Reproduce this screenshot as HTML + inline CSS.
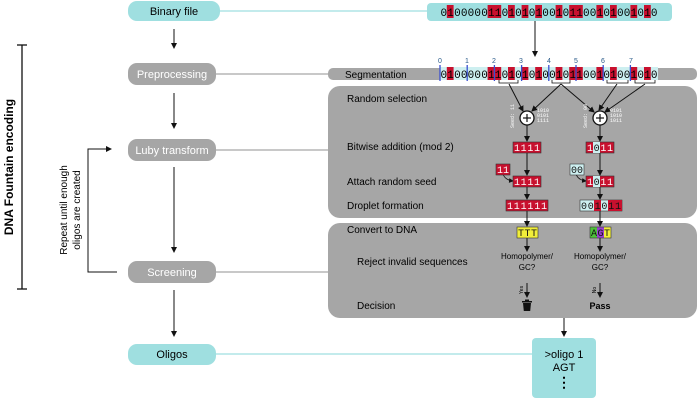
<!DOCTYPE html>
<html><head><meta charset="utf-8"><style>
body{margin:0;background:#fff;}
svg{display:block;font-family:"Liberation Sans",sans-serif;}
</style></head><body>
<svg width="700" height="403" viewBox="0 0 700 403" xmlns="http://www.w3.org/2000/svg">
<defs><marker id="a" markerWidth="6" markerHeight="6" refX="5" refY="3" orient="auto"><path d="M0,0 L6,3 L0,6z" fill="#111"/></marker></defs>
<text transform="translate(13,167) rotate(-90)" text-anchor="middle" font-size="12" font-weight="bold">DNA Fountain encoding</text>
<line x1="22" y1="45" x2="22" y2="289" stroke="#111" stroke-width="1.3"/>
<line x1="17" y1="45" x2="27" y2="45" stroke="#111" stroke-width="1.3"/>
<line x1="17" y1="289" x2="27" y2="289" stroke="#111" stroke-width="1.3"/>
<text transform="translate(67,210) rotate(-90)" text-anchor="middle" font-size="10">Repeat until enough</text>
<text transform="translate(80,210) rotate(-90)" text-anchor="middle" font-size="10">oligos are created</text>
<polyline points="117,272 88,272 88,149 111,149" fill="none" stroke="#111" stroke-width="1" marker-end="url(#a)"/>
<rect x="128" y="1" width="92" height="20" rx="9" fill="#9fdfe0"/>
<text x="174" y="15" text-anchor="middle" font-size="11">Binary file</text>
<line x1="220" y1="11" x2="428" y2="11" stroke="#9fdfe0" stroke-width="1.3"/>
<rect x="128" y="63" width="88" height="22" rx="9" fill="#a6a6a6"/>
<text x="172" y="78" text-anchor="middle" font-size="11" fill="#fff">Preprocessing</text>
<line x1="216" y1="74" x2="330" y2="74" stroke="#a6a6a6" stroke-width="1.3"/>
<rect x="128" y="139" width="88" height="22" rx="9" fill="#a6a6a6"/>
<text x="172" y="154" text-anchor="middle" font-size="11" fill="#fff">Luby transform</text>
<line x1="216" y1="150" x2="330" y2="150" stroke="#a6a6a6" stroke-width="1.3"/>
<rect x="128" y="261" width="88" height="22" rx="9" fill="#a6a6a6"/>
<text x="172" y="276" text-anchor="middle" font-size="11" fill="#fff">Screening</text>
<line x1="216" y1="272" x2="330" y2="272" stroke="#a6a6a6" stroke-width="1.3"/>
<rect x="128" y="344" width="88" height="21" rx="9" fill="#9fdfe0"/>
<text x="172" y="358" text-anchor="middle" font-size="11">Oligos</text>
<line x1="216" y1="354" x2="533" y2="354" stroke="#9fdfe0" stroke-width="1.3"/>
<g stroke="#111" stroke-width="1" marker-end="url(#a)">
<line x1="174" y1="29" x2="174" y2="48"/>
<line x1="174" y1="93" x2="174" y2="128"/>
<line x1="174" y1="167" x2="174" y2="252"/>
<line x1="174" y1="290" x2="174" y2="336"/>
</g>
<rect x="427" y="3" width="245" height="18" rx="4" fill="#9fdfe0"/>
<g fill="#c8102e">
<rect x="446.8" y="5" width="6.8" height="13"/><rect x="487.6" y="5" width="13.6" height="13"/><rect x="508" y="5" width="6.8" height="13"/><rect x="521.6" y="5" width="6.8" height="13"/><rect x="535.2" y="5" width="6.8" height="13"/><rect x="555.6" y="5" width="6.8" height="13"/><rect x="569.2" y="5" width="13.6" height="13"/><rect x="596.4" y="5" width="6.8" height="13"/><rect x="610" y="5" width="6.8" height="13"/><rect x="630.4" y="5" width="6.8" height="13"/><rect x="644" y="5" width="6.8" height="13"/>
</g>
<text x="440.5" y="16" font-family="Liberation Mono,monospace" font-size="11" textLength="217" lengthAdjust="spacing">01000001101010100101100101001010</text>
<line x1="535" y1="21" x2="535" y2="56" stroke="#111" marker-end="url(#a)"/>
<rect x="328" y="68" width="369" height="12" rx="5" fill="#a6a6a6"/>
<text x="345" y="78" font-size="10">Segmentation</text>
<rect x="440" y="67" width="218" height="13" fill="#cdeff0"/>
<g fill="#c8102e">
<rect x="446.8" y="67" width="6.8" height="13"/><rect x="487.6" y="67" width="13.6" height="13"/><rect x="508" y="67" width="6.8" height="13"/><rect x="521.6" y="67" width="6.8" height="13"/><rect x="535.2" y="67" width="6.8" height="13"/><rect x="555.6" y="67" width="6.8" height="13"/><rect x="569.2" y="67" width="13.6" height="13"/><rect x="596.4" y="67" width="6.8" height="13"/><rect x="610" y="67" width="6.8" height="13"/><rect x="630.4" y="67" width="6.8" height="13"/><rect x="644" y="67" width="6.8" height="13"/>
</g>
<text x="440.5" y="78" font-family="Liberation Mono,monospace" font-size="11" textLength="217" lengthAdjust="spacing">01000001101010100101100101001010</text>
<g stroke="#3a4fd0" stroke-width="1.3">
<line x1="440" y1="65" x2="440" y2="81"/><line x1="467.2" y1="65" x2="467.2" y2="81"/><line x1="494.4" y1="65" x2="494.4" y2="81"/><line x1="521.6" y1="65" x2="521.6" y2="81"/><line x1="548.8" y1="65" x2="548.8" y2="81"/><line x1="576" y1="65" x2="576" y2="81"/><line x1="603.2" y1="65" x2="603.2" y2="81"/><line x1="630.4" y1="65" x2="630.4" y2="81"/>
</g>
<g font-size="7" fill="#2a5b8a" text-anchor="middle">
<text x="440" y="63">0</text><text x="467" y="63">1</text><text x="494" y="63">2</text><text x="521" y="63">3</text><text x="549" y="63">4</text><text x="576" y="63">5</text><text x="603" y="63">6</text><text x="631" y="63">7</text>
</g>
<rect x="328" y="86" width="369" height="132" rx="12" fill="#a6a6a6"/>
<rect x="328" y="223" width="369" height="95" rx="12" fill="#a6a6a6"/>
<g font-size="10">
<text x="347" y="102">Random selection</text>
<text x="347" y="150">Bitwise addition (mod 2)</text>
<text x="347" y="185">Attach random seed</text>
<text x="347" y="209">Droplet formation</text>
<text x="347" y="233">Convert to DNA</text>
<text x="357" y="265">Reject invalid sequences</text>
<text x="357" y="309">Decision</text>
</g>
<g stroke="#111" fill="none" stroke-width="0.8">
<path d="M499,80 v3 h19 v-3"/><path d="M552,80 v3 h18 v-3"/><path d="M607,80 v3 h21 v-3"/><path d="M635,80 v3 h20 v-3"/>
</g>
<g stroke="#111" stroke-width="1" marker-end="url(#a)">
<line x1="509" y1="84" x2="523" y2="111"/><line x1="561" y1="84" x2="532" y2="111"/>
<line x1="561" y1="84" x2="594" y2="112"/><line x1="617" y1="84" x2="599" y2="110"/><line x1="645" y1="84" x2="605" y2="112"/>
</g>
<g stroke="#111" stroke-width="1.3" fill="#fff">
<circle cx="527" cy="118" r="7"/><circle cx="600" cy="118" r="7"/>
</g>
<g stroke="#111" stroke-width="1.2"><line x1="523" y1="118" x2="531" y2="118"/><line x1="527" y1="114" x2="527" y2="122"/><line x1="596" y1="118" x2="604" y2="118"/><line x1="600" y1="114" x2="600" y2="122"/></g>
<g font-family="Liberation Mono,monospace" font-size="5" fill="#fff">
<text x="537" y="112">1010</text><text x="537" y="117">0101</text><text x="537" y="122">1111</text>
<text x="610" y="112">0101</text><text x="610" y="117">1010</text><text x="610" y="122">1011</text>
<text transform="translate(514,128) rotate(-90)">Seed: 11</text>
<text transform="translate(587,128) rotate(-90)">Seed: 00</text>
</g>
<g stroke="#111" stroke-width="1" marker-end="url(#a)">
<line x1="527" y1="125" x2="527" y2="141"/><line x1="600" y1="125" x2="600" y2="141"/>
<line x1="527" y1="153" x2="527" y2="175"/><line x1="600" y1="153" x2="600" y2="175"/>
<line x1="527" y1="186" x2="527" y2="199"/><line x1="600" y1="186" x2="600" y2="199"/>
<line x1="527" y1="211" x2="527" y2="226"/><line x1="600" y1="211" x2="600" y2="226"/>
<line x1="527" y1="238" x2="527" y2="251"/><line x1="600" y1="238" x2="600" y2="251"/>
<line x1="527" y1="283" x2="527" y2="297"/><line x1="600" y1="283" x2="600" y2="297"/>
<line x1="564" y1="318" x2="564" y2="336"/>
</g>
<g stroke="#111" fill="none" stroke-width="0.8" marker-end="url(#a)">
<path d="M503,174 q2,6 10,7"/><path d="M576,174 q2,6 10,7"/>
</g>
<g font-family="Liberation Mono,monospace" font-size="10" fill="#fff">
<rect x="513" y="142" width="28" height="11" fill="#c8102e" stroke="#333" stroke-width="0.6"/><text x="514" y="151" textLength="26" fill="#fff">1111</text>
<rect x="586" y="142" width="28" height="11" fill="#c8102e" stroke="#333" stroke-width="0.6"/><rect x="593" y="142" width="7" height="11" fill="#cdeff0"/><text x="587" y="151" textLength="26" fill="#fff">1<tspan fill="#111">0</tspan>11</text>
<rect x="496" y="164" width="14" height="11" fill="#c8102e" stroke="#333" stroke-width="0.6"/><text x="497" y="173" textLength="12">11</text>
<rect x="570" y="164" width="14" height="11" fill="#cdeff0" stroke="#333" stroke-width="0.6"/><text x="571" y="173" textLength="12" fill="#111">00</text>
<rect x="513" y="176" width="28" height="11" fill="#c8102e" stroke="#333" stroke-width="0.6"/><text x="514" y="185" textLength="26">1111</text>
<rect x="586" y="176" width="28" height="11" fill="#c8102e" stroke="#333" stroke-width="0.6"/><rect x="593" y="176" width="7" height="11" fill="#cdeff0"/><text x="587" y="185" textLength="26">1<tspan fill="#111">0</tspan>11</text>
<rect x="506" y="200" width="42" height="11" fill="#c8102e" stroke="#333" stroke-width="0.6"/><text x="507" y="209" textLength="40">111111</text>
<rect x="580" y="200" width="42" height="11" fill="#cdeff0" stroke="#333" stroke-width="0.6"/><rect x="594" y="200" width="7" height="11" fill="#c8102e"/><rect x="608" y="200" width="14" height="11" fill="#c8102e"/><text x="581" y="209" textLength="40" fill="#111">001011</text>
<rect x="517" y="227" width="21" height="11" fill="#f1ee3a" stroke="#333" stroke-width="0.6"/><text x="518" y="236" textLength="19" fill="#111">TTT</text>
<rect x="590" y="227" width="7" height="11" fill="#4ec23a"/><rect x="597" y="227" width="7" height="11" fill="#9a3fd0"/><rect x="604" y="227" width="7" height="11" fill="#f1ee3a"/><rect x="590" y="227" width="21" height="11" fill="none" stroke="#333" stroke-width="0.6"/><text x="591" y="236" textLength="19" fill="#111">AGT</text>
</g>
<g font-size="8" text-anchor="middle">
<text x="527" y="259">Homopolymer/</text><text x="527" y="270">GC?</text>
<text x="600" y="259">Homopolymer/</text><text x="600" y="270">GC?</text>
<text transform="translate(523,290) rotate(-90)" font-size="5">Yes</text>
<text transform="translate(596,290) rotate(-90)" font-size="5">No</text>
<text x="600" y="309" font-weight="bold" font-size="9">Pass</text>
</g>
<g fill="#111"><rect x="522" y="301" width="10" height="1.5"/><rect x="525" y="299.5" width="4" height="1.5"/><path d="M523,303 h8 l-0.8,8 h-6.4z"/></g>
<rect x="532" y="338" width="64" height="60" rx="4" fill="#9fdfe0"/>
<text x="564" y="358" text-anchor="middle" font-size="11">&gt;oligo 1</text>
<text x="564" y="371" text-anchor="middle" font-size="11">AGT</text>
<text x="564" y="387" text-anchor="middle" font-size="14" font-weight="bold">⋮</text>
</svg>
</body></html>
